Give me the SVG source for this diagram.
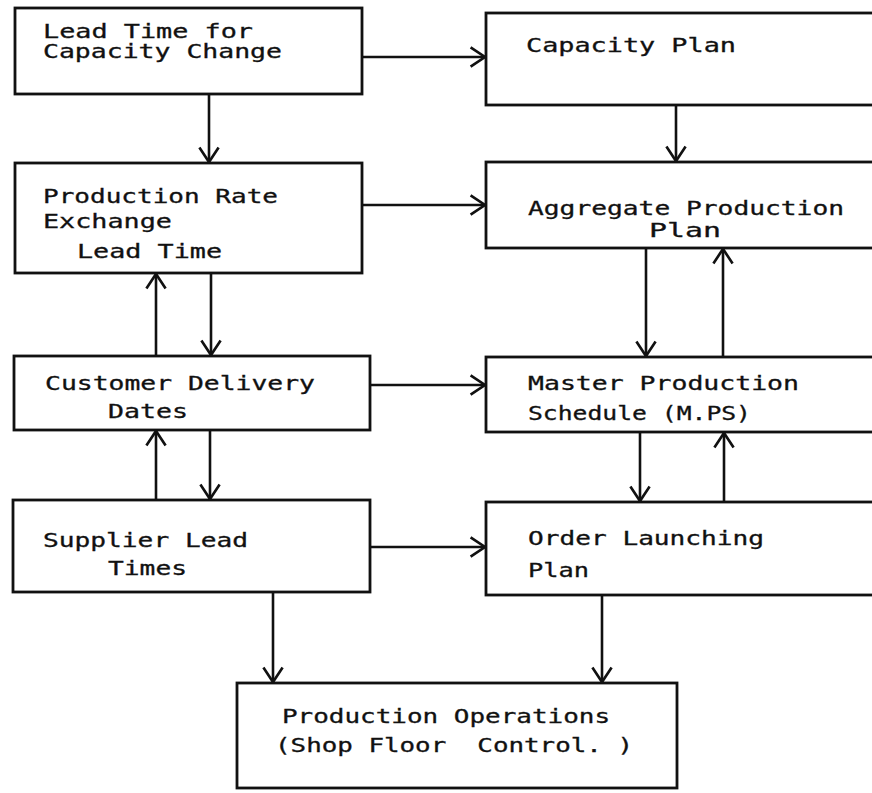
<svg xmlns="http://www.w3.org/2000/svg" width="872" height="793" viewBox="0 0 872 793">
<style>
.box{fill:#fff;stroke:#111;stroke-width:2.8}
.t{font-family:"DejaVu Sans Mono","Liberation Mono",monospace;font-size:19px;fill:#111;stroke:#111;stroke-width:0.3;white-space:pre}
.c{fill:none;stroke:#111;stroke-width:2.6}
</style>
<defs>
<marker id="ah" markerUnits="userSpaceOnUse" markerWidth="24" markerHeight="24" viewBox="-14 -10 16 20" refX="0" refY="0" orient="auto">
<path d="M-12,-8 L0,0 L-12,8" fill="none" stroke="#111" stroke-width="2.2"/>
</marker>
</defs>
<rect width="872" height="793" fill="#fff"/>
<g id="connectors">
<path class="c" d="M362,57 H485" marker-end="url(#ah)"/>
<path class="c" d="M209,94 V162" marker-end="url(#ah)"/>
<path class="c" d="M676,105 V161" marker-end="url(#ah)"/>
<path class="c" d="M362,205 H485" marker-end="url(#ah)"/>
<path class="c" d="M211,273 V355" marker-end="url(#ah)"/>
<path class="c" d="M156,356 V274" marker-end="url(#ah)"/>
<path class="c" d="M646,248 V356" marker-end="url(#ah)"/>
<path class="c" d="M723,357 V249" marker-end="url(#ah)"/>
<path class="c" d="M370,385 H485" marker-end="url(#ah)"/>
<path class="c" d="M210,430 V499" marker-end="url(#ah)"/>
<path class="c" d="M156,500 V431" marker-end="url(#ah)"/>
<path class="c" d="M640,432 V501" marker-end="url(#ah)"/>
<path class="c" d="M724,502 V433" marker-end="url(#ah)"/>
<path class="c" d="M370,547 H485" marker-end="url(#ah)"/>
<path class="c" d="M273,592 V682" marker-end="url(#ah)"/>
<path class="c" d="M602,595 V682" marker-end="url(#ah)"/>
</g>
<g id="n1">
<rect class="box" x="15" y="8" width="347" height="86"/>
<text class="t" x="43" y="38" textLength="210" lengthAdjust="spacingAndGlyphs">Lead Time for</text>
<text class="t" x="43" y="58" textLength="239" lengthAdjust="spacingAndGlyphs">Capacity Change</text>
</g>
<g id="n2">
<rect class="box" x="486" y="13" width="400" height="92"/>
<text class="t" x="526" y="52" textLength="210" lengthAdjust="spacingAndGlyphs">Capacity Plan</text>
</g>
<g id="n3">
<rect class="box" x="15" y="163" width="347" height="110"/>
<text class="t" x="43" y="203" textLength="235" lengthAdjust="spacingAndGlyphs">Production Rate</text>
<text class="t" x="43" y="228" textLength="129" lengthAdjust="spacingAndGlyphs">Exchange</text>
<text class="t" x="77" y="258" textLength="145" lengthAdjust="spacingAndGlyphs">Lead Time</text>
</g>
<g id="n4">
<rect class="box" x="486" y="162" width="400" height="86"/>
<text class="t" x="528" y="215" textLength="316" lengthAdjust="spacingAndGlyphs">Aggregate Production</text>
<text class="t" x="649" y="237" textLength="72" lengthAdjust="spacingAndGlyphs">Plan</text>
</g>
<g id="n5">
<rect class="box" x="14" y="356" width="356" height="74"/>
<text class="t" x="45" y="390" textLength="270" lengthAdjust="spacingAndGlyphs">Customer Delivery</text>
<text class="t" x="108" y="418" textLength="80" lengthAdjust="spacingAndGlyphs">Dates</text>
</g>
<g id="n6">
<rect class="box" x="486" y="357" width="400" height="75"/>
<text class="t" x="528" y="390" textLength="271" lengthAdjust="spacingAndGlyphs">Master Production</text>
<text class="t" x="528" y="420" textLength="223" lengthAdjust="spacingAndGlyphs">Schedule (M.PS)</text>
</g>
<g id="n7">
<rect class="box" x="13" y="500" width="357" height="92"/>
<text class="t" x="43" y="547" textLength="205" lengthAdjust="spacingAndGlyphs">Supplier Lead</text>
<text class="t" x="108" y="575" textLength="79" lengthAdjust="spacingAndGlyphs">Times</text>
</g>
<g id="n8">
<rect class="box" x="486" y="502" width="400" height="93"/>
<text class="t" x="528" y="545" textLength="236" lengthAdjust="spacingAndGlyphs">Order Launching</text>
<text class="t" x="528" y="577" textLength="61" lengthAdjust="spacingAndGlyphs">Plan</text>
</g>
<g id="n9">
<rect class="box" x="237" y="683" width="440" height="105"/>
<text class="t" x="282" y="723" textLength="328" lengthAdjust="spacingAndGlyphs">Production Operations</text>
<text class="t" x="275" y="752" textLength="358" lengthAdjust="spacingAndGlyphs" xml:space="preserve">(Shop Floor  Control. )</text>
</g>
</svg>
